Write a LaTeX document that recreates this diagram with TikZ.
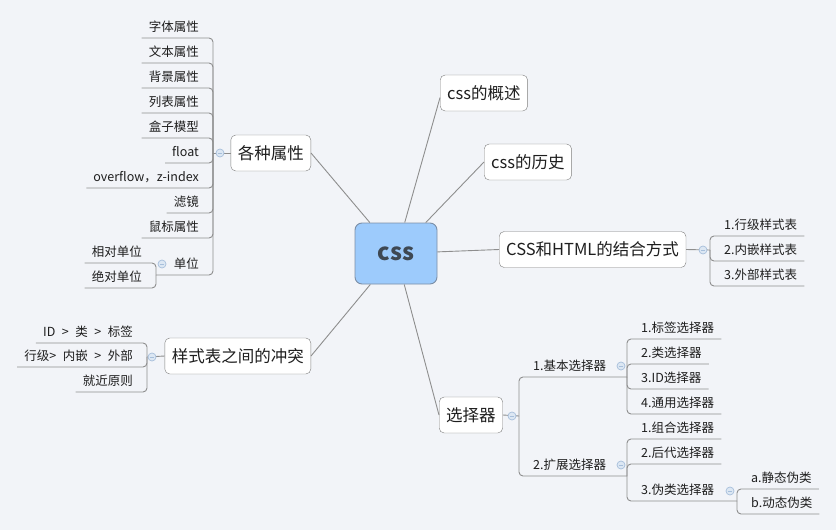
\documentclass[tikz,border=0pt]{standalone}
\usepackage{fontspec}
\setmainfont{Noto Sans CJK SC}
\definecolor{bggray}{HTML}{F2F4F8}
\definecolor{linegray}{HTML}{8E8E8E}
\definecolor{boxgray}{HTML}{7E7E7E}
\definecolor{textgray}{HTML}{1E1E1E}
\definecolor{cssblue}{HTML}{9DCBFC}
\definecolor{cssborder}{HTML}{7B8EA6}
\definecolor{cssgray}{HTML}{3E4853}
\definecolor{foldfill}{HTML}{DCE7F3}
\definecolor{foldborder}{HTML}{A7BFDB}
\tikzset{
	topic/.style={draw=boxgray, fill=white, rounded corners=5pt, inner xsep=7pt, minimum height=36pt, font=\fontsize{16.5}{18}\selectfont, text=textgray},
	leaf/.style={inner xsep=7pt, inner ysep=4pt, text height=10pt, text depth=2pt, font=\fontsize{12.5}{14}\selectfont, text=textgray},
	widesp/.style={execute at begin node={\spaceskip=6.5pt\relax}},
	branch/.style={draw=linegray, line width=0.9pt, rounded corners=4pt},
	fold/.style={circle, draw=foldborder, fill=foldfill, line width=0.7pt, minimum size=8pt, inner sep=0pt,
		path picture={\draw[foldborder, line width=0.8pt] ([xshift=-2.2pt]path picture bounding box.center) -- ([xshift=2.2pt]path picture bounding box.center);}},
}
\begin{document}
\begin{tikzpicture}[x=1pt,y=-1pt]
	\fill[bggray] (0,0) rectangle (836,530);
	\useasboundingbox (0,0) rectangle (836,530);
	% centre
	\node[draw=cssborder, fill=cssblue, line width=0.9pt, rounded corners=7pt, minimum width=82pt, minimum height=61pt, font=\fontsize{23.5}{25}\selectfont\bfseries, text=cssgray] (css) at (396,253.5) {css};
	% main topics
	\node[topic, anchor=west] (gaishu) at (440,93) {css的概述};
	\node[topic, anchor=west] (lishi) at (484,162) {css的历史};
	\node[topic, anchor=west] (jiehe) at (499,249.5) {CSS和HTML的结合方式};
	\node[topic, anchor=east] (shuxing) at (311,153) {各种属性};
	\node[topic, anchor=east] (chongtu) at (311,356) {样式表之间的冲突};
	\node[topic, anchor=west] (xuanze) at (439,415) {选择器};
	\draw[branch] (css) -- (gaishu.186);
	\draw[branch] (css) -- (lishi.west);
	\draw[branch] (css) -- (jiehe.west);
	\draw[branch] (css) -- (shuxing.east);
	\draw[branch] (css) -- (chongtu.east);
	\draw[branch] (css) -- (xuanze.west);
	% junctions
	\coordinate (jjh) at (710,250);
	\coordinate (jsx) at (213,153);
	\coordinate (jdw) at (156,275);
	\coordinate (jct) at (147,357);
	\coordinate (jxz) at (519,416);
	\coordinate (jjb) at (627,377);
	\coordinate (jkz) at (627,476);
	\coordinate (jwl) at (737,501);
	% CSS和HTML的结合方式
	\node[leaf, anchor=south west] (hangji) at (717,236) {1.行级样式表};
	\node[leaf, anchor=south west] (neiqian) at (717,261) {2.内嵌样式表};
	\node[leaf, anchor=south west] (waibu) at (717,286) {3.外部样式表};
	\draw[branch] (jiehe.east) -- (jjh);
	\foreach \n in {hangji,neiqian,waibu}
		\draw[branch] (jjh) |- (\n.south east);
	% 各种属性
	\node[leaf, anchor=south east] (ziti) at (206,38) {字体属性};
	\node[leaf, anchor=south east] (wenben) at (206,63) {文本属性};
	\node[leaf, anchor=south east] (beijing) at (206,88) {背景属性};
	\node[leaf, anchor=south east] (liebiao) at (206,113) {列表属性};
	\node[leaf, anchor=south east] (hezi) at (206,138) {盒子模型};
	\node[leaf, anchor=south east] (float) at (206,163) {float};
	\node[leaf, anchor=south east] (overflow) at (206,188) {overflow，z-index};
	\node[leaf, anchor=south east] (lvjing) at (206,213) {滤镜};
	\node[leaf, anchor=south east] (shubiao) at (206,238) {鼠标属性};
	\node[leaf, anchor=south east] (danwei) at (206,275) {单位};
	\node[leaf, anchor=south east] (xiangdui) at (149,263) {相对单位};
	\node[leaf, anchor=south east] (juedui) at (149,288) {绝对单位};
	\draw[branch] (shuxing.west) -- (jsx);
	\foreach \n in {ziti,wenben,beijing,liebiao,hezi,float,overflow,lvjing,shubiao}
		\draw[branch] (jsx) |- (\n.south west);
	\draw[branch] (jsx) |- (jdw);
	\foreach \n in {xiangdui,juedui}
		\draw[branch] (jdw) |- (\n.south west);
	% 样式表之间的冲突
	\node[leaf, widesp, anchor=south east] (yxj) at (140,343) {ID > 类 > 标签};
	\node[leaf, widesp, anchor=south east] (hnw) at (140,367) {行级> 内嵌 > 外部};
	\node[leaf, anchor=south east] (jiujin) at (140,392) {就近原则};
	\draw[branch] (chongtu.west) -- (jct);
	\foreach \n in {yxj,hnw,jiujin}
		\draw[branch] (jct) |- (\n.south west);
	% 选择器
	\node[leaf, anchor=south west] (jiben) at (526,377) {1.基本选择器};
	\node[leaf, anchor=south west] (kuozhan) at (526,476) {2.扩展选择器};
	\draw[branch] (xuanze.east) -- (jxz);
	\draw[branch] (jxz) |- (jjb);
	\draw[branch] (jxz) |- (jkz);
	\node[leaf, anchor=south west] (biaoqian) at (634,339) {1.标签选择器};
	\node[leaf, anchor=south west] (lei) at (634,364) {2.类选择器};
	\node[leaf, anchor=south west] (idxz) at (634,389) {3.ID选择器};
	\node[leaf, anchor=south west] (tongyong) at (634,414) {4.通用选择器};
	\foreach \n in {biaoqian,lei,idxz,tongyong}
		\draw[branch] (jjb) |- (\n.south east);
	\node[leaf, anchor=south west] (zuhe) at (634,439) {1.组合选择器};
	\node[leaf, anchor=south west] (houdai) at (634,464) {2.后代选择器};
	\node[leaf, anchor=south west] (weilei) at (634,501) {3.伪类选择器};
	\foreach \n in {zuhe,houdai}
		\draw[branch] (jkz) |- (\n.south east);
	\draw[branch] (jkz) |- (jwl);
	\node[leaf, anchor=south west] (jingtai) at (744,489) {a.静态伪类};
	\node[leaf, anchor=south west] (dongtai) at (744,514) {b.动态伪类};
	\foreach \n in {jingtai,dongtai}
		\draw[branch] (jwl) |- (\n.south east);
	% fold marks
	\node[fold] (fjh) at (703,250) {};
	\node[fold] (fsx) at (220,153) {};
	\node[fold] (fdw) at (162,264) {};
	\node[fold] (fct) at (152,357) {};
	\node[fold] (fxz) at (512,416) {};
	\node[fold] (fjb) at (621,366) {};
	\node[fold] (fkz) at (621,465) {};
	\node[fold] (fwl) at (730,491) {};
\end{tikzpicture}
\end{document}
